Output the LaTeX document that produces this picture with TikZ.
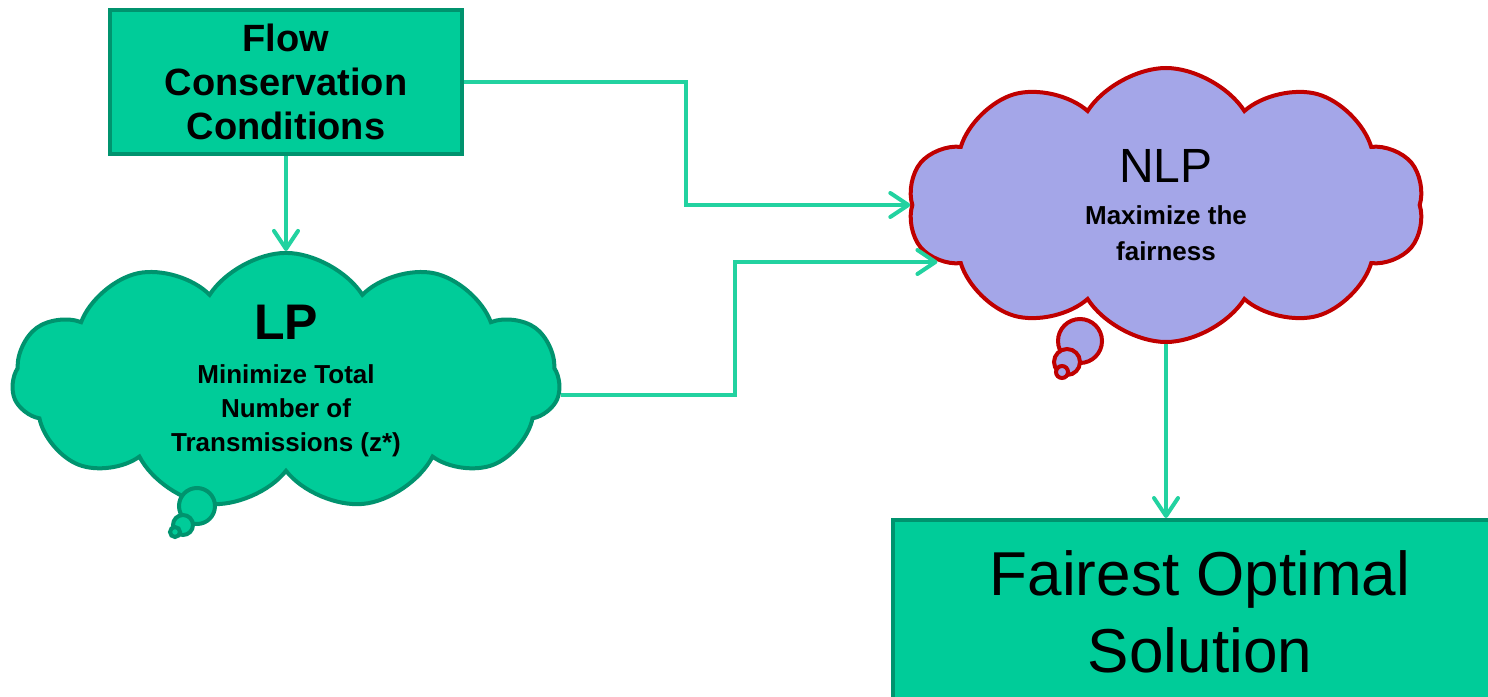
\documentclass[tikz,border=0pt]{standalone}
\usepackage{fontspec}
\setmainfont{Liberation Sans}
\usetikzlibrary{positioning,arrows.meta,shapes.symbols}
\definecolor{pptGreen}{HTML}{00CC99}
\definecolor{pptGreenDark}{HTML}{00936E}
\definecolor{pptArrow}{HTML}{22D2A0}
\definecolor{pptLilac}{HTML}{A4A6E8}
\definecolor{pptRed}{HTML}{C00000}

\begin{document}
\begin{tikzpicture}[
  x=0.5pt, y=-0.5pt,
  >={Straight Barb[length=9pt,width=12pt,round]},
  greenbox/.style={
    rectangle, draw=pptGreenDark, fill=pptGreen, line width=2pt,
    align=center, inner sep=0pt
  },
  greencloud/.style={
    cloud, cloud puffs=11, cloud puff arc=115, cloud ignores aspect,
    draw=pptGreenDark, fill=pptGreen, line width=2pt,
    align=center, inner sep=0pt,
    font=\fontsize{13}{17}\selectfont\bfseries
  },
  lilaccloud/.style={
    greencloud, cloud puffs=10, draw=pptRed, fill=pptLilac,
    font=\fontsize{13}{18}\selectfont\bfseries
  },
  flowline/.style={->, draw=pptArrow, line width=2pt}
]
  \clip (0,0) rectangle (1488,696);

  % Flow Conservation Conditions
  \node[greenbox, minimum width=176pt, minimum height=72pt,
        font=\fontsize{19}{22}\selectfont\bfseries] (flow) at (286,82)
    {Flow\\Conservation\\Conditions};

  % LP
  \node[greencloud, minimum width=274pt, minimum height=119pt] (lp) at (286,381)
    {{\fontsize{25}{28}\selectfont LP}\\[5pt]
     Minimize Total\\Number of\\Transmissions (z*)};
  \draw[pptGreenDark, fill=pptGreen, line width=2pt] (197,506) circle (9pt);
  \draw[pptGreenDark, fill=pptGreen, line width=2pt] (183,525) circle (5pt);
  \draw[pptGreenDark, fill=pptGreen, line width=2pt] (175,532) circle (2.5pt);

  % NLP
  \node[lilaccloud, minimum width=258pt, minimum height=137pt] (nlp) at (1166,205)
    {{\fontsize{24}{28}\mdseries\selectfont NLP}\\[3pt]
     Maximize the\\fairness};
  \draw[pptRed, fill=pptLilac, line width=2pt] (1080,341) circle (11pt);
  \draw[pptRed, fill=pptLilac, line width=2pt] (1067,362) circle (6.5pt);
  \draw[pptRed, fill=pptLilac, line width=2pt] (1062,372) circle (3pt);

  % Fairest Optimal Solution
  \node[greenbox, minimum width=307pt, minimum height=92pt,
        font=\fontsize{31}{38.5}\selectfont] (fair) at (1200,612)
    {Fairest Optimal\\Solution};

  % Connectors
  \coordinate (jA) at (686,0);
  \coordinate (jB) at (735,0);
  \draw[flowline] (flow.south) -- (lp.north);
  \draw[flowline] (flow.east) -- (flow.east -| jA) |- (nlp.west);
  \draw[flowline] (lp.-3) -- (lp.-3 -| jB) |- (nlp.194);
  \draw[flowline] (nlp.south) -- (nlp.south |- fair.north);

\end{tikzpicture}
\end{document}
